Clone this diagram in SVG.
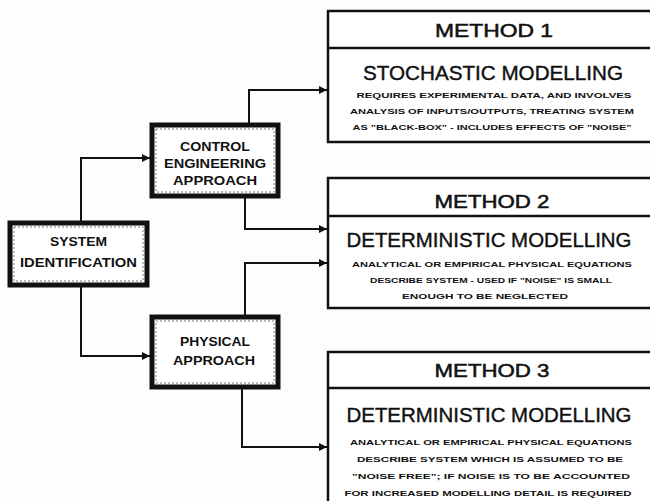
<svg xmlns="http://www.w3.org/2000/svg" width="650" height="501" viewBox="0 0 650 501">
<defs>
<style>
.bg{fill:#fdfdfd}
.node{fill:#fff;stroke:#111;stroke-width:5}
.nodein{fill:none;stroke:#777;stroke-width:1;stroke-dasharray:2 2}
.mbox{fill:#fff;stroke:#111;stroke-width:2.5}
.div{stroke:#111;stroke-width:2.5}
.conn{fill:none;stroke:#111;stroke-width:2}
.nt{font-family:"Liberation Sans",Arial,sans-serif;font-weight:bold;font-size:13px;fill:#111;text-anchor:middle}
.mh{font-family:"Liberation Sans",Arial,sans-serif;font-size:18px;fill:#111;text-anchor:middle;stroke:#111;stroke-width:0.5}
.mt{font-family:"Liberation Sans",Arial,sans-serif;font-size:20px;fill:#111;text-anchor:middle;stroke:#111;stroke-width:0.4}
.st{font-family:"Liberation Sans",Arial,sans-serif;font-weight:bold;font-size:7px;fill:#111;text-anchor:middle}
</style>
<marker id="ah" viewBox="0 0 6 6" refX="6" refY="3" markerWidth="4" markerHeight="4" orient="auto">
<path d="M0,0 L6,3 L0,6 z" fill="#111"/>
</marker>
</defs>
<rect class="bg" x="0" y="0" width="650" height="501"/>

<g id="connectors">
<path class="conn" d="M81,223 V158 H150" marker-end="url(#ah)"/>
<path class="conn" d="M81,285 V356 H150" marker-end="url(#ah)"/>
<path class="conn" d="M249,125 V90 H327" marker-end="url(#ah)"/>
<path class="conn" d="M245,196 V229 H327" marker-end="url(#ah)"/>
<path class="conn" d="M245,317 V263 H327" marker-end="url(#ah)"/>
<path class="conn" d="M242,387 V447 H327" marker-end="url(#ah)"/>
</g>

<g id="system-identification">
<rect class="node" x="10" y="223" width="137" height="62"/>
<rect class="nodein" x="14" y="227" width="129" height="54"/>
<text class="nt" x="78.5" y="246" textLength="57" lengthAdjust="spacingAndGlyphs">SYSTEM</text>
<text class="nt" x="78.5" y="267" textLength="117" lengthAdjust="spacingAndGlyphs">IDENTIFICATION</text>
</g>

<g id="control-engineering">
<rect class="node" x="152" y="125" width="126" height="71"/>
<rect class="nodein" x="156" y="129" width="118" height="63"/>
<text class="nt" x="215" y="151" textLength="70" lengthAdjust="spacingAndGlyphs">CONTROL</text>
<text class="nt" x="215" y="168" textLength="102" lengthAdjust="spacingAndGlyphs">ENGINEERING</text>
<text class="nt" x="215" y="185" textLength="84" lengthAdjust="spacingAndGlyphs">APPROACH</text>
</g>

<g id="physical-approach">
<rect class="node" x="152" y="317" width="126" height="70"/>
<rect class="nodein" x="156" y="321" width="118" height="62"/>
<text class="nt" x="215" y="346" textLength="70" lengthAdjust="spacingAndGlyphs">PHYSICAL</text>
<text class="nt" x="214" y="365" textLength="82" lengthAdjust="spacingAndGlyphs">APPROACH</text>
</g>

<g id="method-1">
<rect class="mbox" x="328" y="11" width="330" height="131"/>
<line class="div" x1="328" y1="48" x2="650" y2="48"/>
<text class="mh" x="494" y="37" textLength="118" lengthAdjust="spacingAndGlyphs">METHOD  1</text>
<text class="mt" x="493" y="80" textLength="260" lengthAdjust="spacingAndGlyphs">STOCHASTIC MODELLING</text>
<text class="st" x="494" y="98" textLength="275" lengthAdjust="spacingAndGlyphs">REQUIRES EXPERIMENTAL DATA, AND INVOLVES</text>
<text class="st" x="492" y="114" textLength="284" lengthAdjust="spacingAndGlyphs">ANALYSIS OF INPUTS/OUTPUTS, TREATING SYSTEM</text>
<text class="st" x="492" y="130" textLength="279" lengthAdjust="spacingAndGlyphs">AS "BLACK-BOX" - INCLUDES EFFECTS OF "NOISE"</text>
</g>

<g id="method-2">
<rect class="mbox" x="328" y="178" width="330" height="130"/>
<line class="div" x1="328" y1="216" x2="650" y2="216"/>
<text class="mh" x="492" y="208" textLength="115" lengthAdjust="spacingAndGlyphs">METHOD 2</text>
<text class="mt" x="489" y="247" textLength="285" lengthAdjust="spacingAndGlyphs">DETERMINISTIC MODELLING</text>
<text class="st" x="492" y="267" textLength="280" lengthAdjust="spacingAndGlyphs">ANALYTICAL OR EMPIRICAL PHYSICAL EQUATIONS</text>
<text class="st" x="491" y="283" textLength="242" lengthAdjust="spacingAndGlyphs">DESCRIBE SYSTEM - USED IF "NOISE" IS SMALL</text>
<text class="st" x="485" y="299" textLength="166" lengthAdjust="spacingAndGlyphs">ENOUGH TO BE NEGLECTED</text>
</g>

<g id="method-3">
<rect class="mbox" x="328" y="352" width="330" height="160"/>
<line class="div" x1="328" y1="388" x2="650" y2="388"/>
<text class="mh" x="492" y="377" textLength="115" lengthAdjust="spacingAndGlyphs">METHOD 3</text>
<text class="mt" x="489" y="422" textLength="285" lengthAdjust="spacingAndGlyphs">DETERMINISTIC MODELLING</text>
<text class="st" x="491" y="445" textLength="282" lengthAdjust="spacingAndGlyphs">ANALYTICAL OR EMPIRICAL PHYSICAL EQUATIONS</text>
<text class="st" x="490" y="462" textLength="266" lengthAdjust="spacingAndGlyphs">DESCRIBE SYSTEM WHICH IS ASSUMED TO BE</text>
<text class="st" x="491" y="479" textLength="278" lengthAdjust="spacingAndGlyphs">"NOISE FREE"; IF NOISE IS TO BE ACCOUNTED</text>
<text class="st" x="488" y="496" textLength="287" lengthAdjust="spacingAndGlyphs">FOR INCREASED MODELLING DETAIL IS REQUIRED</text>
</g>
</svg>
